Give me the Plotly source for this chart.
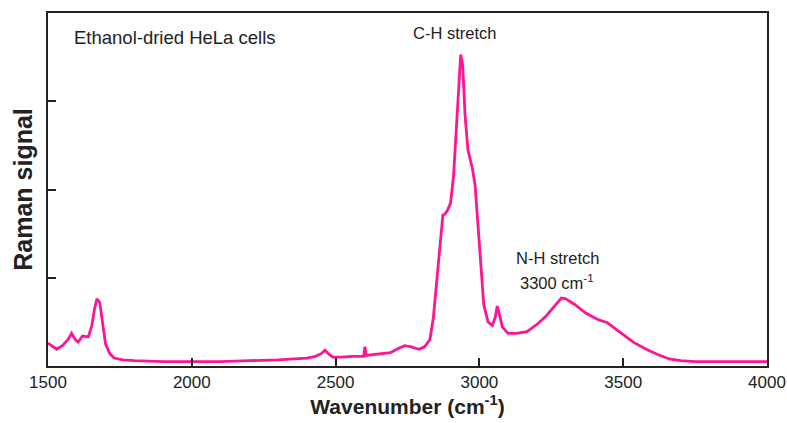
import plotly.graph_objects as go

wavenumber = [1500, 1515, 1530, 1550, 1570, 1582, 1595, 1605, 1620, 1640, 1652, 1662, 1670, 1680, 1690, 1700, 1715, 1730, 1760, 1800,
              1900, 2000, 2100, 2200, 2300, 2400, 2430, 2450, 2463, 2475, 2490, 2520, 2560, 2598, 2602, 2606, 2640, 2690, 2720, 2740,
              2760, 2790, 2810, 2828, 2840, 2852, 2863, 2873, 2880, 2890, 2900, 2910, 2920, 2928, 2935, 2942, 2950, 2960, 2975, 2985,
              2995, 3005, 3015, 3030, 3045, 3055, 3062, 3070, 3080, 3100, 3130, 3165, 3200, 3230, 3260, 3285, 3300, 3330, 3370, 3410,
              3445, 3490, 3535, 3580, 3620, 3660, 3700, 3750, 3800, 3900, 4000]
signal = [0.26, 0.22, 0.19, 0.23, 0.30, 0.37, 0.30, 0.27, 0.34, 0.33, 0.45, 0.65, 0.76, 0.72, 0.48, 0.25, 0.14, 0.09, 0.07, 0.06,
          0.05, 0.05, 0.05, 0.06, 0.07, 0.09, 0.11, 0.14, 0.18, 0.14, 0.10, 0.10, 0.11, 0.11, 0.22, 0.12, 0.13, 0.15, 0.20, 0.23,
          0.22, 0.19, 0.22, 0.30, 0.55, 0.95, 1.31, 1.71, 1.72, 1.77, 1.85, 2.15, 2.70, 3.20, 3.53, 3.40, 2.85, 2.45, 2.25, 2.05,
          1.60, 1.05, 0.70, 0.50, 0.46, 0.55, 0.68, 0.58, 0.44, 0.37, 0.37, 0.39, 0.47, 0.56, 0.68, 0.77, 0.76, 0.70, 0.60, 0.53,
          0.49, 0.38, 0.27, 0.19, 0.13, 0.08, 0.06, 0.05, 0.05, 0.05, 0.05]

fig = go.Figure()
fig.add_trace(go.Scatter(x=wavenumber, y=signal, mode="lines",
                         line=dict(color="#ff1493", width=2.8), showlegend=False))

annotations = [
    dict(x=1583, y=3.72, text="Ethanol-dried HeLa cells", xanchor="left", size=18.5),
    dict(x=2915, y=3.77, text="C-H stretch", xanchor="center", size=16.5),
    dict(x=3270, y=1.22, text="N-H stretch", xanchor="center", size=16.5),
    dict(x=3270, y=0.95, text="3300 cm<sup>-1</sup>", xanchor="center", size=16.5),
]
for a in annotations:
    fig.add_annotation(x=a["x"], y=a["y"], text=a["text"], showarrow=False,
                       xanchor=a["xanchor"], yanchor="middle",
                       font=dict(family="Liberation Sans, Arial", size=a["size"], color="#222"))

fig.update_layout(
    width=787, height=423,
    margin=dict(l=48, r=20, t=13, b=57, autoexpand=False),
    paper_bgcolor="white", plot_bgcolor="white",
    font=dict(family="Liberation Sans, Arial", color="#222"),
    xaxis=dict(range=[1500, 4000], tickvals=[1500, 2000, 2500, 3000, 3500, 4000],
               ticks="inside", ticklen=8, tickwidth=2, tickcolor="#222",
               showline=True, linecolor="#222", linewidth=2, mirror=True,
               showgrid=False, zeroline=False, tickfont=dict(size=17), automargin=False,
               title=dict(text="<b>Wavenumber (cm<sup>-1</sup>)</b>", font=dict(size=21), standoff=6)),
    yaxis=dict(range=[0, 4], tickvals=[1, 2, 3], showticklabels=False,
               ticks="inside", ticklen=8, tickwidth=2, tickcolor="#222",
               showline=True, linecolor="#222", linewidth=2, mirror=True,
               showgrid=False, zeroline=False, automargin=False,
               title=dict(text="<b>Raman signal</b>", font=dict(size=25), standoff=6)),
)
fig.write_html("out.html")
